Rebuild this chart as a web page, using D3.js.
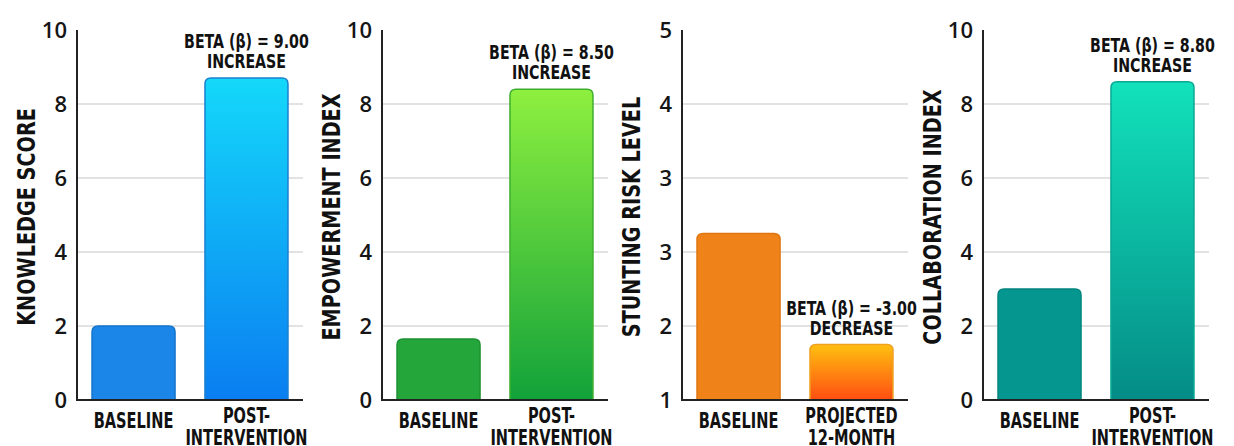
<!DOCTYPE html>
<html>
<head>
<meta charset="utf-8">
<script src="https://cdn.jsdelivr.net/npm/d3@7"></script>
<style>
  html, body { margin: 0; padding: 0; background: #fff; }
  svg { display: block; }
  .tick text { font-family: "Open Sans", sans-serif; font-weight: 600; fill: #151515; }
  .cond { font-family: "DejaVu Sans Condensed", "Liberation Sans", sans-serif; font-weight: bold; fill: #111; }
</style>
</head>
<body>
<div class="chart"></div>
<script>
// ---- data ----
var panelTitles = ["KNOWLEDGE SCORE", "EMPOWERMENT INDEX", "STUNTING RISK LEVEL", "COLLABORATION INDEX"];
var firstLabels = ["BASELINE", "BASELINE", "BASELINE", "BASELINE"];
var secondLabels = [["POST-", "INTERVENTION"], ["POST-", "INTERVENTION"], ["PROJECTED", "12-MONTH"], ["POST-", "INTERVENTION"]];
var baselineValues = [2.0, 1.65, 2.8, 3.0];
var secondValues = [8.7, 8.4, 1.6, 8.6];
var betaTexts = ["BETA (β) = 9.00", "BETA (β) = 8.50", "BETA (β) = -3.00", "BETA (β) = 8.80"];
var effectTexts = ["INCREASE", "INCREASE", "DECREASE", "INCREASE"];
var yDomains = [[0, 10], [0, 10], [1, 5], [0, 10]];
var yTicks = [
    [0, 2, 4, 6, 8, 10],
    [0, 2, 4, 6, 8, 10],
    [1, 1.8, 2.6, 3.4, 4.2, 5],   // the picture labels these 1,2,3,3,4,5
    [0, 2, 4, 6, 8, 10]
];

// colours: solid baseline, gradient [top, bottom] for second bar
var baseColors = ["#1b86e8", "#25a63a", "#ef8219", "#04968f"];
var baseStroke = ["#1474cc", "#1d9030", "#e07510", "#03857f"];
var gradTop = ["#14d8fa", "#8ef03f", "#ffc010", "#12e2bb"];
var gradBottom = ["#0a7ef1", "#12a23a", "#ff4e12", "#048c86"];
var gradStroke = ["#1a80d0", "#3fae2e", "#f0a020", "#0aa895"];

var W = 1234, H = 446;
var axisX = [77, 382, 682, 983];
var plotW = 226, plotTop = 30, plotBottom = 400;

var svg = d3.select('.chart').append('svg')
    .attr('width', W)
    .attr('height', H);

var defs = svg.append('defs');

function roundedTop(x, y, w, h, r) {
    return 'M' + x + ',' + (y + h) +
        'V' + (y + r) +
        'Q' + x + ',' + y + ' ' + (x + r) + ',' + y +
        'H' + (x + w - r) +
        'Q' + (x + w) + ',' + y + ' ' + (x + w) + ',' + (y + r) +
        'V' + (y + h) + 'Z';
}

// squeeze text horizontally to mimic the condensed face of the original
function squeeze(sel, f) {
    sel.each(function () {
        var len = this.getComputedTextLength();
        d3.select(this).attr('textLength', len * f).attr('lengthAdjust', 'spacingAndGlyphs');
    });
}

panelTitles.forEach(function (title, i) {
    var g = svg.append('g').attr('transform', 'translate(' + axisX[i] + ',0)');

    var y = d3.scaleLinear().domain(yDomains[i]).range([plotBottom, plotTop]);
    var cats = [firstLabels[i], secondLabels[i].join(' ')];
    var x = d3.scaleBand().domain(cats).range([0, plotW])
        .paddingInner(0.265).paddingOuter(0.133);

    // gridlines (not at the ends of the domain)
    g.selectAll('line.grid')
        .data(yTicks[i].slice(1, -1))
        .enter()
        .append('line')
        .attr('class', 'grid')
        .attr('x1', 0).attr('x2', plotW)
        .attr('y1', function (d) { return y(d); })
        .attr('y2', function (d) { return y(d); })
        .style('stroke', '#d9d9d9')
        .style('stroke-width', 1.5);

    // gradient for second bar
    var gid = 'grad' + i;
    var lg = defs.append('linearGradient').attr('id', gid)
        .attr('x1', 0).attr('y1', 0).attr('x2', 0).attr('y2', 1);
    lg.append('stop').attr('offset', '0%').attr('stop-color', gradTop[i]);
    lg.append('stop').attr('offset', '100%').attr('stop-color', gradBottom[i]);

    var bars = [
        {cat: cats[0], v: baselineValues[i], fill: baseColors[i], stroke: baseStroke[i]},
        {cat: cats[1], v: secondValues[i], fill: 'url(#' + gid + ')', stroke: gradStroke[i]}
    ];

    g.selectAll('path.bar')
        .data(bars)
        .enter()
        .append('path')
        .attr('class', 'bar')
        .attr('d', function (d) {
            return roundedTop(x(d.cat), y(d.v), x.bandwidth(), plotBottom - y(d.v), 6);
        })
        .style('fill', function (d) { return d.fill; })
        .style('stroke', function (d) { return d.stroke; })
        .style('stroke-width', 1.5);

    // y axis
    var yAxis = d3.axisLeft(y)
        .tickValues(yTicks[i])
        .tickFormat(d3.format('.0f'))
        .tickSize(0)
        .tickPadding(10);
    var ya = g.append('g').call(yAxis);
    ya.select('.domain').remove();
    ya.selectAll('.tick text').style('font-size', '22px');

    // axis lines
    g.append('line').attr('x1', 0).attr('x2', 0).attr('y1', plotTop).attr('y2', plotBottom + 1)
        .style('stroke', '#222').style('stroke-width', 2);
    g.append('line').attr('x1', 0).attr('x2', plotW).attr('y1', plotBottom).attr('y2', plotBottom)
        .style('stroke', '#222').style('stroke-width', 2);

    // category labels
    var t1 = g.append('text').attr('class', 'cond')
        .attr('x', x(cats[0]) + x.bandwidth() / 2)
        .attr('y', 428)
        .attr('text-anchor', 'middle')
        .style('font-size', '20.5px')
        .text(firstLabels[i]);
    squeeze(t1, 0.79);
    var t2 = g.append('text').attr('class', 'cond')
        .attr('text-anchor', 'middle')
        .style('font-size', '20.5px');
    secondLabels[i].forEach(function (line, k) {
        t2.append('tspan')
            .attr('x', x(cats[1]) + x.bandwidth() / 2)
            .attr('y', 423 + k * 22)
            .text(line);
    });
    squeeze(t2.selectAll('tspan'), 0.79);

    // beta annotation over second bar
    var cx = x(cats[1]) + x.bandwidth() / 2;
    var yTop = y(secondValues[i]);
    var b1 = g.append('text').attr('class', 'cond')
        .attr('x', cx).attr('y', yTop - 30)
        .attr('text-anchor', 'middle')
        .style('font-size', '19px')
        .text(betaTexts[i]);
    var b2 = g.append('text').attr('class', 'cond')
        .attr('x', cx).attr('y', yTop - 10)
        .attr('text-anchor', 'middle')
        .style('font-size', '19px')
        .text(effectTexts[i]);
    squeeze(b1, 0.83);
    squeeze(b2, 0.83);

    // y title
    var yt = g.append('text').attr('class', 'cond')
        .attr('transform', 'translate(-42,217) rotate(-90)')
        .attr('text-anchor', 'middle')
        .style('font-size', '24px')
        .text(title);
    squeeze(yt, 0.89);
});
</script>
</body>
</html>
